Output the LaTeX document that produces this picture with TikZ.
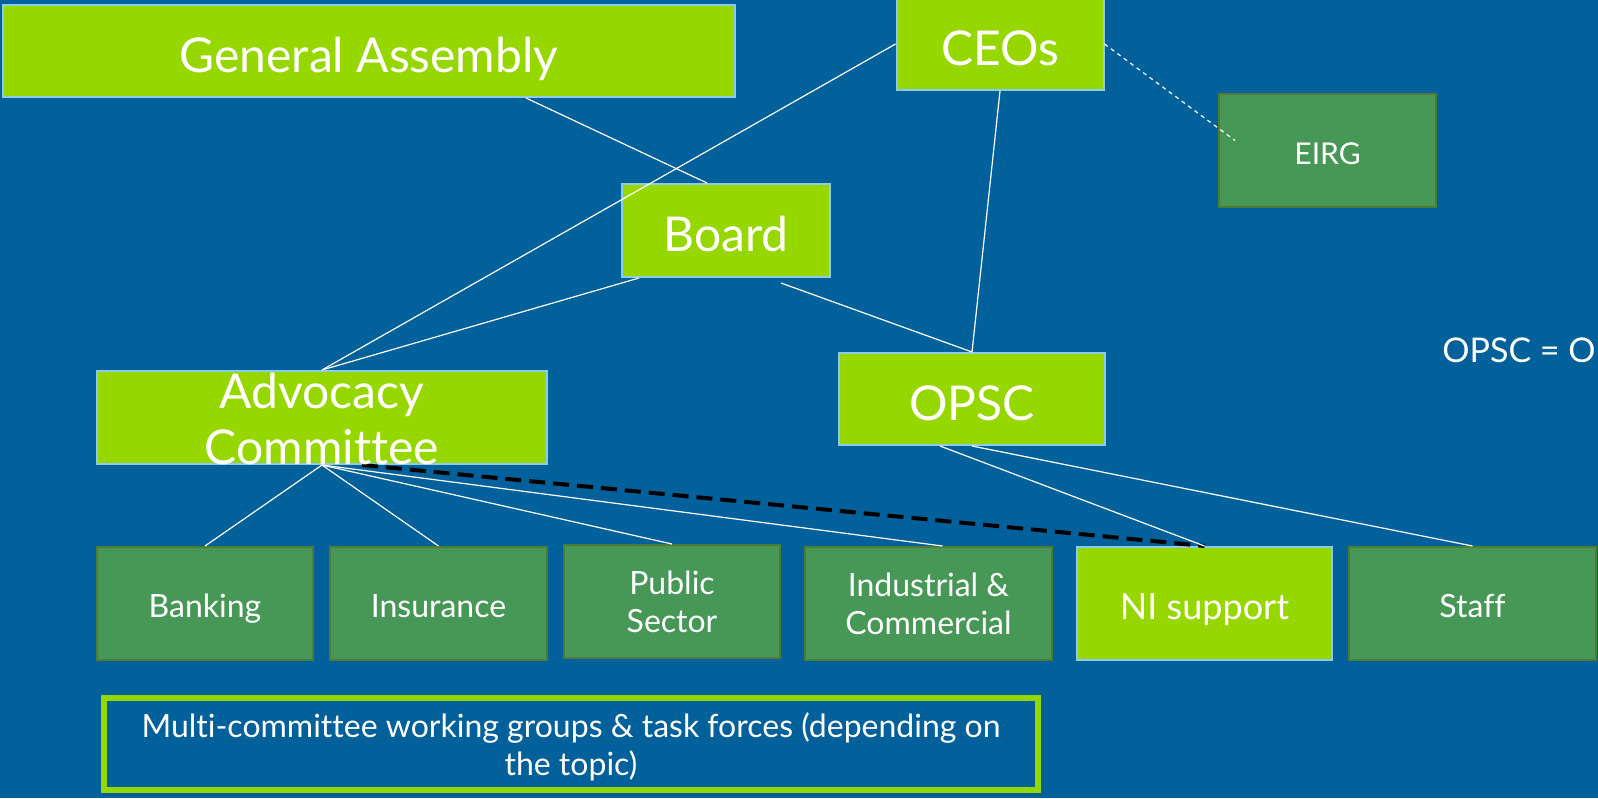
\documentclass[tikz,border=0pt]{standalone}
\usepackage{fontspec}
\setmainfont{Lato}[Ligatures=NoCommon]
\usetikzlibrary{calc}
\definecolor{bgblue}{HTML}{02609A}
\definecolor{lime}{HTML}{97D700}
\definecolor{dkgreen}{HTML}{479857}
\definecolor{dkedge}{HTML}{4E7B36}
\definecolor{ltblue}{HTML}{8CCBEA}

\begin{document}
\begin{tikzpicture}[x=0.5pt, y=-0.5pt]%[scale=\tikzscale]
  \tikzset{LIME/.style={draw=ltblue, line width=1pt, fill=lime, text=white, inner sep=0pt, align=center} }
  \tikzset{DARK/.style={draw=dkedge, line width=1pt, fill=dkgreen, text=white, inner sep=0pt, align=center, minimum height=56.5pt, font=\fontsize{16}{19}\selectfont} }
  \tikzset{ONE/.style={text height=#1, text depth=0pt} }
  \tikzset{BIG/.style={font=\fontsize{24}{28}\selectfont} }
  \tikzset{LINK/.style={draw=white, line width=0.6pt} }

  \useasboundingbox (0,0) rectangle (1598,798);
  \fill[bgblue] (0,0) rectangle (1598,798);

  \node[LIME, BIG, ONE=21pt, minimum width=366pt, minimum height=46pt] (ga) at (369,51) {General Assembly};
  \node[LIME, BIG, ONE=21pt, minimum width=103.5pt, minimum height=46pt] (ceo) at (1000,44) {CEOs};
  \node[DARK, ONE=13.5pt, minimum width=108.5pt, font=\fontsize{15}{18}\selectfont] (eirg) at (1327.5,150.5) {EIRG};
  \node[LIME, BIG, ONE=21pt, minimum width=104pt, minimum height=46.5pt] (board) at (726,230.5) {Board};
  \node[LIME, minimum width=225pt, minimum height=46.5pt] (adv) at (322,417.5) {};
  \node[LIME, BIG, ONE=21pt, minimum width=133pt, minimum height=46pt] (opsc) at (972,399) {OPSC};

  \node[DARK, ONE=14.4pt, minimum width=108pt] (bank) at (205,603.5) {Banking};
  \node[DARK, ONE=14.4pt, minimum width=108.5pt] (ins) at (438.5,603.5) {Insurance};
  \node[DARK, minimum width=108pt] (pub) at (672,601.5) {Public\\Sector};
  \node[DARK, minimum width=123.5pt] (ind) at (928.5,603.5) {Industrial \&\\Commercial};
  \node[LIME, ONE=16pt, minimum width=127.5pt, minimum height=56.5pt, font=\fontsize{18}{21}\selectfont] (ni) at (1204.5,603.5) {NI support};
  \node[DARK, ONE=14.4pt, minimum width=123.5pt] (staff) at (1472.5,603.5) {Staff};

  \node[draw=lime, line width=3pt, fill=bgblue, minimum width=467pt, minimum height=46pt] (multi) at (571,744) {};
  \node[text=white, inner sep=0pt, align=center, font=\fontsize{16}{19}\selectfont] (multitext) at (571,747) {Multi-committee working groups \& task forces (depending on\\the topic)};

  \node[anchor=west, text=white, inner sep=0pt, font=\fontsize{17}{20}\selectfont] (note) at (1442,350) {OPSC = O};

  \draw[LINK] ($(ga.south)+(157,0)$) -- ($(board.north)+(-19,0)$);
  \draw[LINK] (ceo.west) -- (adv.north);
  \draw[LINK] ($(board.south)+(-87,0)$) -- (adv.north);
  \draw[LINK] (ceo.south) -- (opsc.north);
  \draw[LINK] ($(board.south)+(55,5)$) -- (opsc.north);
  \draw[LINK, dash pattern=on 2pt off 2pt] (ceo.east) -- ($(eirg.west)+(17,-10)$);

  \foreach \sub in {bank, ins, pub}
    \draw[LINK] (adv.south) -- (\sub.north);
  \draw[LINK] (adv.south) -- ($(ind.north)+(14,0)$);

  \draw[black, line width=2pt, dash pattern=on 8pt off 4pt] ($(adv.south)+(40,0)$) -- (ni.north);
  \draw[LINK] ($(opsc.south)+(-32,0)$) -- (ni.north);
  \draw[LINK] (opsc.south) -- (staff.north);

  \node[BIG, text=white, align=center, inner sep=0pt] (advtext) at (322,419) {Advocacy\\Committee};
\end{tikzpicture}
\end{document}
